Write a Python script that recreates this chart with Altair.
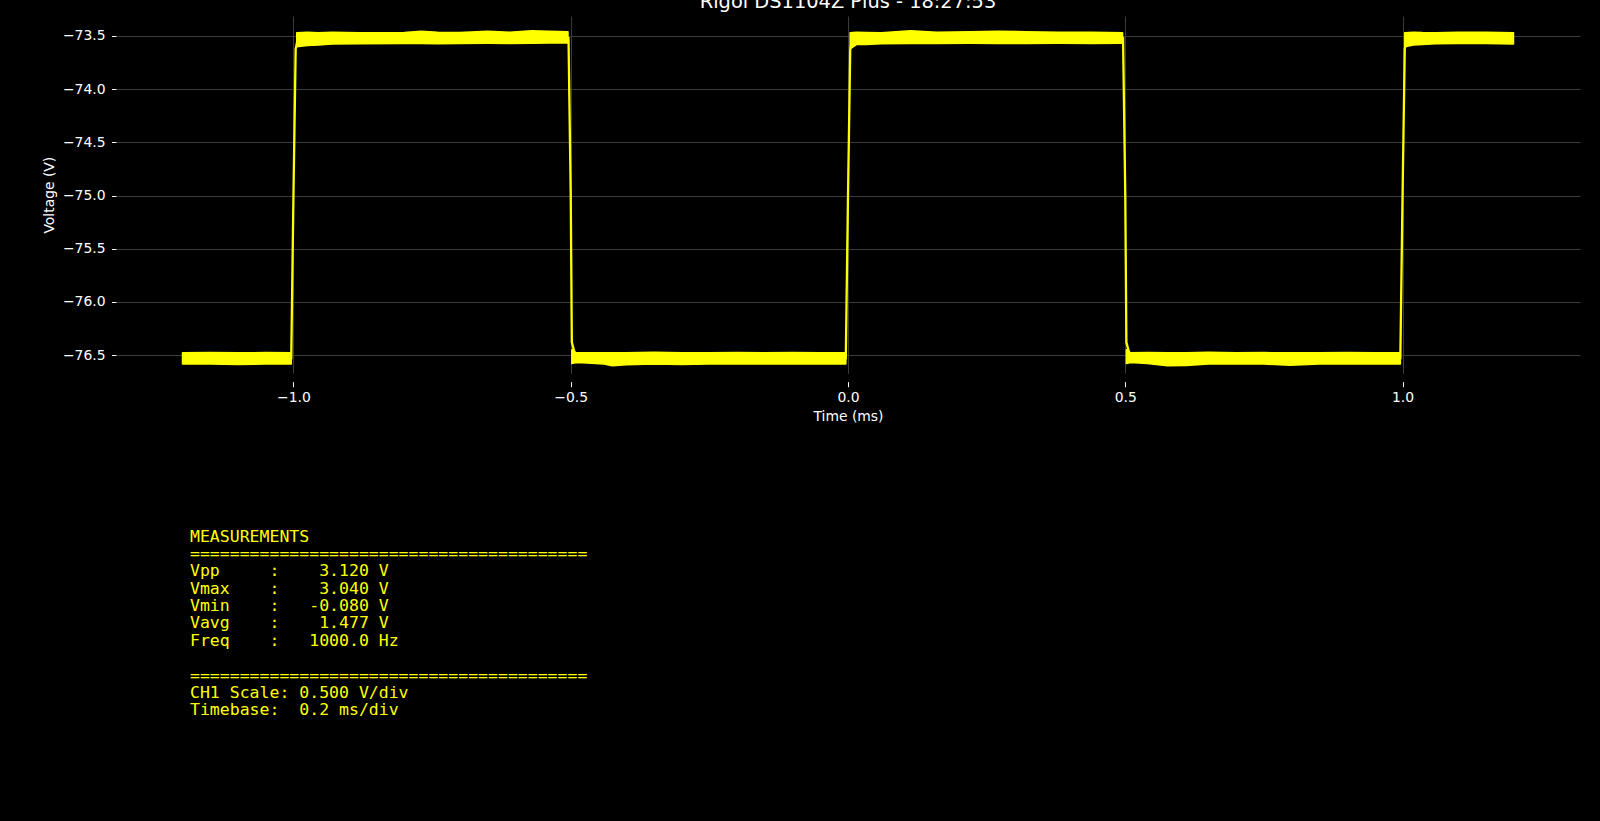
import altair as alt
import pandas as pd

YELLOW = "#ffff00"
TITLE = "Rigol DS1104Z Plus - 18:27:53"

# ---- trace key points (time in ms, voltage in V) ----
trace_t = [-1.2, -1.004, -1.0, -0.996, -0.992,
           -0.504, -0.5, -0.498, -0.492,
           -0.004, 0.0, 0.004, 0.008,
           0.496, 0.5, 0.502, 0.508,
           0.996, 1.0, 1.004, 1.008, 1.2]
trace_v = [-76.53, -76.53, -75.0, -73.62, -73.52,
           -73.52, -75.0, -76.38, -76.5,
           -76.53, -75.0, -73.63, -73.52,
           -73.52, -75.0, -76.38, -76.5,
           -76.53, -75.0, -73.62, -73.52, -73.52]

# ---- noise envelope of each plateau (upper / lower edge of the trace band) ----
hp1_t = [-0.994, -0.975, -0.955, -0.93, -0.88, -0.80, -0.77, -0.74, -0.70, -0.65, -0.61, -0.57, -0.54, -0.505]
hp1_hi = [-73.47, -73.465, -73.47, -73.465, -73.47, -73.468, -73.455, -73.465, -73.468, -73.455, -73.465, -73.452, -73.455, -73.46]
hp1_lo = [-73.60, -73.59, -73.585, -73.575, -73.572, -73.57, -73.57, -73.572, -73.57, -73.568, -73.57, -73.568, -73.566, -73.565]

hp2_t = [0.004, 0.015, 0.033, 0.06, 0.113, 0.16, 0.22, 0.27, 0.32, 0.38, 0.44, 0.495]
hp2_hi = [-73.47, -73.465, -73.468, -73.47, -73.45, -73.465, -73.46, -73.455, -73.46, -73.465, -73.465, -73.47]
hp2_lo = [-73.62, -73.58, -73.58, -73.572, -73.57, -73.57, -73.568, -73.57, -73.57, -73.568, -73.57, -73.568]

hp3_t = [1.004, 1.02, 1.035, 1.06, 1.10, 1.15, 1.2]
hp3_hi = [-73.47, -73.465, -73.468, -73.47, -73.465, -73.465, -73.47]
hp3_lo = [-73.60, -73.585, -73.58, -73.572, -73.57, -73.57, -73.575]

lp0_t = [-1.2, -1.15, -1.1, -1.05, -1.004]
lp0_hi = [-76.48, -76.478, -76.48, -76.478, -76.48]
lp0_lo = [-76.585, -76.585, -76.588, -76.585, -76.585]

lp1_t = [-0.498, -0.49, -0.47, -0.44, -0.425, -0.40, -0.35, -0.30, -0.25, -0.20, -0.15, -0.10, -0.05, -0.004]
lp1_hi = [-76.45, -76.48, -76.48, -76.48, -76.48, -76.48, -76.475, -76.48, -76.48, -76.478, -76.48, -76.478, -76.48, -76.48]
lp1_lo = [-76.58, -76.57, -76.575, -76.585, -76.6, -76.59, -76.585, -76.588, -76.585, -76.585, -76.585, -76.585, -76.585, -76.585]

lp2_t = [0.502, 0.51, 0.54, 0.576, 0.61, 0.65, 0.70, 0.75, 0.797, 0.85, 0.90, 0.95, 0.996]
lp2_hi = [-76.45, -76.48, -76.478, -76.48, -76.48, -76.475, -76.48, -76.478, -76.48, -76.48, -76.478, -76.48, -76.48]
lp2_lo = [-76.58, -76.57, -76.58, -76.6, -76.598, -76.585, -76.585, -76.585, -76.595, -76.585, -76.585, -76.585, -76.585]

# ---- measurement panel text ----
meas_names = ["Vpp", "Vmax", "Vmin", "Vavg", "Freq"]
meas_values = ["3.120", "3.040", "-0.080", "1.477", "1000.0"]
meas_units = ["V", "V", "V", "V", "Hz"]
ch1_scale = "0.500 V/div"
timebase = "0.2 ms/div"

x_ticks = [-1.0, -0.5, 0.0, 0.5, 1.0]
y_ticks = [-76.5, -76.0, -75.5, -75.0, -74.5, -74.0, -73.5]

# ---- build tables ----
trace_df = pd.DataFrame({"t": trace_t, "v": trace_v})
bands = []
for name, ts, his, los in [("hp1", hp1_t, hp1_hi, hp1_lo), ("hp2", hp2_t, hp2_hi, hp2_lo),
                           ("hp3", hp3_t, hp3_hi, hp3_lo), ("lp0", lp0_t, lp0_hi, lp0_lo),
                           ("lp1", lp1_t, lp1_hi, lp1_lo), ("lp2", lp2_t, lp2_hi, lp2_lo)]:
    for t, h, l in zip(ts, his, los):
        bands.append({"seg": name, "t": t, "hi": h, "lo": l})
band_df = pd.DataFrame(bands)

NB = "\u00a0"
sep = "=" * 40
block1 = ["MEASUREMENTS", sep]
for n, v, u in zip(meas_names, meas_values, meas_units):
    block1.append(f"{n:<8}:{v:>9} {u}")
block2 = [sep, f"CH1 Scale: {ch1_scale}", f"Timebase:  {timebase}"]
block1 = [s.replace(" ", NB) for s in block1]
block2 = [s.replace(" ", NB) for s in block2]

W, H = 1464, 357.3
LEFT, TOP = 116, 16
LH = 17.35

xs = alt.X("t:Q", scale=alt.Scale(domain=[-1.32, 1.32], nice=False, zero=False),
           axis=alt.Axis(values=x_ticks, format=".1f", title="Time (ms)", offset=8.4,
                         tickSize=5, labelPadding=3.5, titleBaseline="alphabetic", titleY=39))
ys = alt.Y("hi:Q", scale=alt.Scale(domain=[-76.672, -73.312], nice=False, zero=False),
           axis=alt.Axis(values=y_ticks, format=".1f", title="Voltage (V)",
                         tickSize=4.5, labelPadding=6.5, titleBaseline="alphabetic",
                         titleX=-62.5, titleY=H / 2))

band = alt.Chart(band_df).mark_area(color=YELLOW, opacity=1, stroke=YELLOW,
                                    strokeWidth=1.6, strokeJoin="round").encode(
    x=xs, y=ys, y2="lo:Q", detail="seg:N")
line = alt.Chart(trace_df).mark_line(color=YELLOW, strokeWidth=2.3).encode(
    x="t:Q", y="v:Q")

one = alt.Data(values=[{"k": 0}])
title_txt = alt.Chart(one).mark_text(
    text=TITLE, color="white", font="DejaVu Sans", fontSize=19.4,
    align="center", baseline="alphabetic").encode(
    x=alt.value(W / 2), y=alt.value(-8.5))
meas_txt1 = alt.Chart(one).mark_text(
    text=block1, color=YELLOW, font="DejaVu Sans Mono", fontSize=16.5, lineHeight=LH,
    align="left", baseline="alphabetic").encode(
    x=alt.value(190 - LEFT), y=alt.value(541.7 - TOP))
meas_txt2 = alt.Chart(one).mark_text(
    text=block2, color=YELLOW, font="DejaVu Sans Mono", fontSize=16.5, lineHeight=LH,
    align="left", baseline="alphabetic").encode(
    x=alt.value(190 - LEFT), y=alt.value(541.7 - TOP + 8 * LH))

chart = alt.layer(band, line, title_txt, meas_txt1, meas_txt2).properties(
    width=W, height=H,
    autosize=alt.AutoSizeParams(type="none"),
    padding={"left": LEFT, "top": TOP, "right": 1600 - LEFT - W, "bottom": 821 - TOP - H},
    background="black",
).configure_view(stroke=None).configure_axis(
    domain=False, grid=True, gridColor="#3b3b3b", gridWidth=1,
    tickColor="white", tickWidth=1,
    labelColor="white", labelFont="DejaVu Sans", labelFontSize=13.9,
    titleColor="white", titleFont="DejaVu Sans", titleFontSize=13.9, titleFontWeight="normal",
)

chart.save("out.html", embed_options={"renderer": "svg", "actions": False})
